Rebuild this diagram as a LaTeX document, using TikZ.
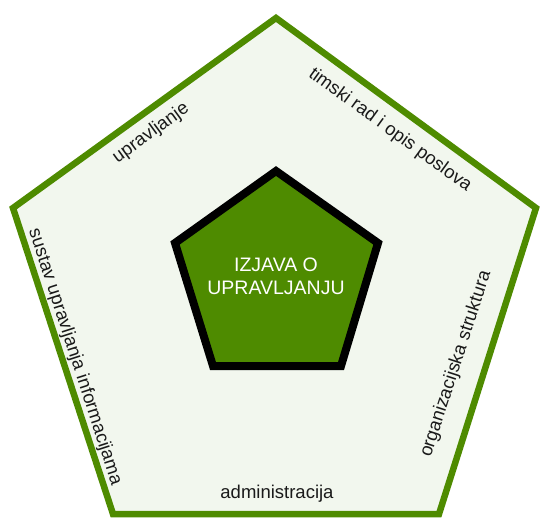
\documentclass[tikz,border=0pt]{standalone}
\usepackage{fontspec}
\setmainfont{Liberation Sans}
\definecolor{leafgreen}{RGB}{78,139,0}
\definecolor{palegreen}{RGB}{242,247,238}
\definecolor{inkgrey}{RGB}{26,26,26}

\begin{document}
\begin{tikzpicture}[x=1pt, y=-1pt, every node/.style={align=center, inner sep=0pt},
    edgelabel/.style={font=\fontsize{18.5}{21}\selectfont, text=inkgrey}]
        \useasboundingbox (0,0) rectangle (541,519);

        % Outer pentagon
        \coordinate (otop) at (276,18);
        \coordinate (oright) at (536,208);
        \coordinate (obr) at (439,514);
        \coordinate (obl) at (113,514);
        \coordinate (oleft) at (13,208);
        \draw[leafgreen, line width=6.5pt, fill=palegreen] (otop) -- (oright) -- (obr) -- (obl) -- (oleft) -- cycle;

        % Inner pentagon
        \coordinate (itop) at (276,171);
        \coordinate (iright) at (378,243);
        \coordinate (ibr) at (341,366);
        \coordinate (ibl) at (213,366);
        \coordinate (ileft) at (175,243);
        \draw[black, line width=8pt, fill=leafgreen] (itop) -- (iright) -- (ibr) -- (ibl) -- (ileft) -- cycle;

        % Labels
        \node[text=white, font=\fontsize{19.5}{22.7}\selectfont] (izjava) at (276,276) {IZJAVA O\\ UPRAVLJANJU};
        \node[edgelabel, rotate=36] (upravljanje) at (151,133) {upravljanje};
        \node[edgelabel, rotate=-36] (timski) at (390,130) {timski rad i opis poslova};
        \node[edgelabel, rotate=72] (organizacijska) at (456,364) {organizacijska struktura};
        \node[edgelabel] (administracija) at (277,494) {administracija};
        \node[edgelabel, rotate=-72] (sustav) at (75,357) {sustav upravljanja informacijama};

    \end{tikzpicture}
\end{document}
